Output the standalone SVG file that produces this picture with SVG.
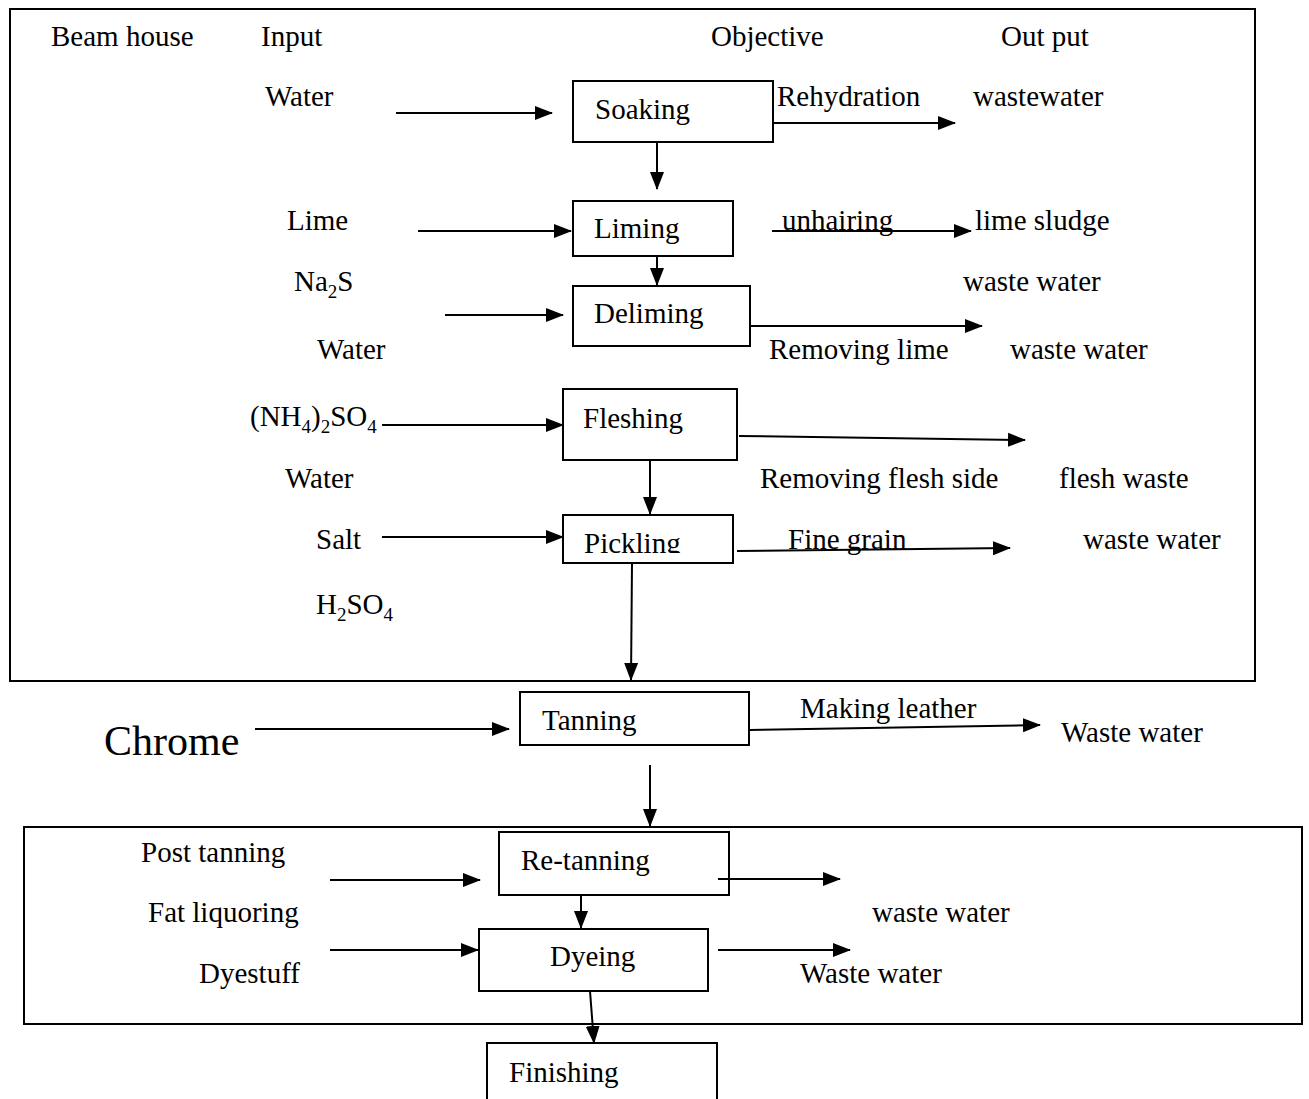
<svg xmlns="http://www.w3.org/2000/svg" width="1309" height="1099" viewBox="0 0 1309 1099">
<style>
text{font-family:"Liberation Serif","Times New Roman",serif;font-size:29px;fill:#000}
.sub{font-size:19px}
.box{fill:#fff;stroke:#000;stroke-width:2}
.frame{fill:none;stroke:#000;stroke-width:2}
.c{fill:none;stroke:#000;stroke-width:2;marker-end:url(#ah)}
</style>
<defs>
<marker id="ah" markerUnits="userSpaceOnUse" markerWidth="18" markerHeight="16" viewBox="0 0 18 16" refX="17" refY="8" orient="auto">
<path d="M0,1 L18,8 L0,15 Z" fill="#000"/>
</marker>
<clipPath id="pclip"><rect x="563" y="515" width="172" height="38"/></clipPath>
</defs>
<g id="frames">
<rect class="frame" x="10" y="9" width="1245" height="672"/>
<rect class="frame" x="24" y="827" width="1278" height="197"/>
</g>
<g id="labels">
<text x="51" y="46">Beam house</text>
<text x="261" y="46">Input</text>
<text x="711" y="46">Objective</text>
<text x="1001" y="46">Out put</text>
<text x="265" y="106">Water</text>
<text x="777" y="106">Rehydration</text>
<text x="973" y="106">wastewater</text>
<text x="287" y="230">Lime</text>
<text x="782" y="230">unhairing</text>
<text x="975" y="230">lime sludge</text>
<text x="294" y="291">Na<tspan class="sub" dy="7">2</tspan><tspan dy="-7">S</tspan></text>
<text x="963" y="291">waste water</text>
<text x="317" y="359">Water</text>
<text x="769" y="359">Removing lime</text>
<text x="1010" y="359">waste water</text>
<text x="250" y="426">(NH<tspan class="sub" dy="7">4</tspan><tspan dy="-7">)</tspan><tspan class="sub" dy="7">2</tspan><tspan dy="-7">SO</tspan><tspan class="sub" dy="7">4</tspan></text>
<text x="285" y="488">Water</text>
<text x="760" y="488">Removing flesh side</text>
<text x="1059" y="488">flesh waste</text>
<text x="316" y="549">Salt</text>
<text x="788" y="549">Fine grain</text>
<text x="1083" y="549">waste water</text>
<text x="316" y="614">H<tspan class="sub" dy="7">2</tspan><tspan dy="-7">SO</tspan><tspan class="sub" dy="7">4</tspan></text>
<text x="104" y="755" style="font-size:42px">Chrome</text>
<text x="800" y="718">Making leather</text>
<text x="1061" y="742">Waste water</text>
<text x="141" y="862">Post tanning</text>
<text x="148" y="922">Fat liquoring</text>
<text x="872" y="922">waste water</text>
<text x="199" y="983">Dyestuff</text>
<text x="800" y="983">Waste water</text>
</g>
<g id="soaking"><rect class="box" x="573" y="81" width="200" height="61"/><text x="595" y="119">Soaking</text></g>
<g id="liming"><rect class="box" x="573" y="201" width="160" height="55"/><text x="594" y="238">Liming</text></g>
<g id="deliming"><rect class="box" x="573" y="286" width="177" height="60"/><text x="594" y="323">Deliming</text></g>
<g id="fleshing"><rect class="box" x="563" y="389" width="174" height="71"/><text x="583" y="428">Fleshing</text></g>
<g id="pickling"><rect class="box" x="563" y="515" width="170" height="48"/><text x="584" y="553" clip-path="url(#pclip)">Pickling</text></g>
<g id="tanning"><rect class="box" x="520" y="692" width="229" height="53"/><text x="542" y="730">Tanning</text></g>
<g id="retanning"><rect class="box" x="499" y="832" width="230" height="63"/><text x="521" y="870">Re-tanning</text></g>
<g id="dyeing"><rect class="box" x="479" y="929" width="229" height="62"/><text x="550" y="966">Dyeing</text></g>
<g id="finishing"><rect class="box" x="487" y="1043" width="230" height="70"/><text x="509" y="1082">Finishing</text></g>
<g id="connectors">
<line class="c" x1="396" y1="113" x2="552" y2="113"/>
<line class="c" x1="773" y1="123" x2="955" y2="123"/>
<line class="c" x1="657" y1="142" x2="657" y2="189"/>
<line class="c" x1="418" y1="231" x2="571" y2="231"/>
<line class="c" x1="772" y1="231" x2="971" y2="231"/>
<line class="c" x1="657" y1="256" x2="657" y2="285"/>
<line class="c" x1="445" y1="315" x2="563" y2="315"/>
<line class="c" x1="750" y1="326" x2="982" y2="326"/>
<line class="c" x1="382" y1="425" x2="563" y2="425"/>
<line class="c" x1="739" y1="436" x2="1025" y2="440"/>
<line class="c" x1="650" y1="460" x2="650" y2="514"/>
<line class="c" x1="382" y1="537" x2="563" y2="537"/>
<line class="c" x1="737" y1="551" x2="1010" y2="548"/>
<line class="c" x1="632" y1="563" x2="631" y2="680"/>
<line class="c" x1="255" y1="729" x2="509" y2="729"/>
<line class="c" x1="749" y1="730" x2="1040" y2="725"/>
<line class="c" x1="650" y1="765" x2="650" y2="826"/>
<line class="c" x1="330" y1="880" x2="480" y2="880"/>
<line class="c" x1="718" y1="879" x2="840" y2="879"/>
<line class="c" x1="581" y1="895" x2="581" y2="928"/>
<line class="c" x1="330" y1="950" x2="478" y2="950"/>
<line class="c" x1="718" y1="950" x2="850" y2="950"/>
<line class="c" x1="590" y1="991" x2="594" y2="1043"/>
</g>
</svg>
